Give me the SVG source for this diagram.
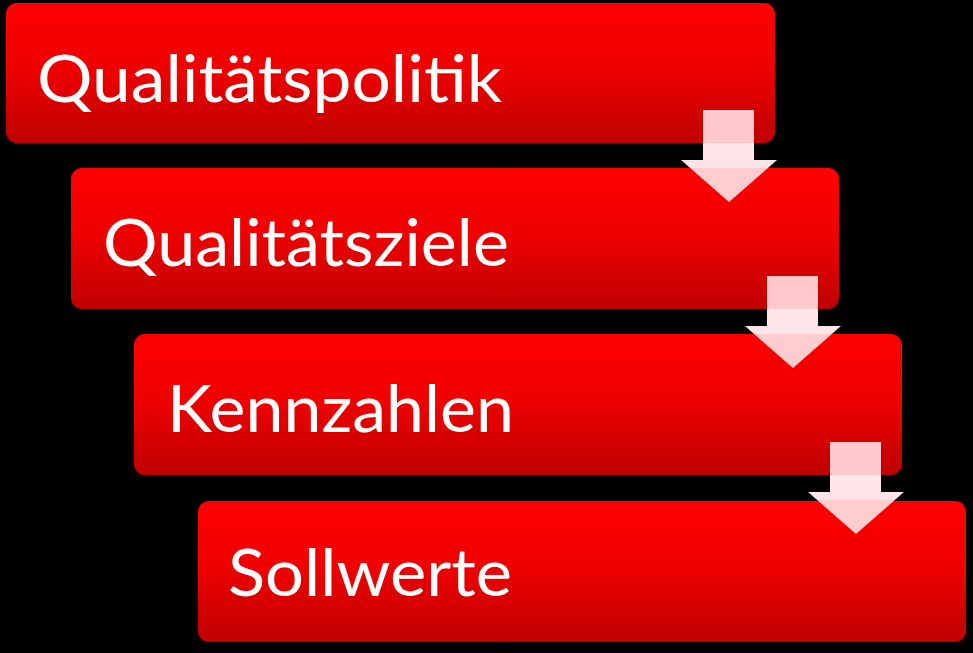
<svg xmlns="http://www.w3.org/2000/svg" width="973" height="653" viewBox="0 0 973 653">
<defs>
<linearGradient id="boxGrad" x1="0" y1="0" x2="0" y2="1">
<stop offset="0" stop-color="#ff0000"/>
<stop offset="0.45" stop-color="#f00000"/>
<stop offset="1" stop-color="#bf0000"/>
</linearGradient>
<linearGradient id="arrowGrad" x1="0" y1="0" x2="0" y2="1">
<stop offset="0" stop-color="#ffc8ca"/>
<stop offset="0.36" stop-color="#ffcacc"/>
<stop offset="0.36" stop-color="#ffe6e9"/>
<stop offset="0.63" stop-color="#ffe4e7"/>
<stop offset="0.63" stop-color="#ffcdcf"/>
<stop offset="1" stop-color="#ffcdcf"/>
</linearGradient>
<path id="arrowShape" d="M22,0 H73 V50 H96 L48,92 L0,50 H22 Z"/>
</defs>
<style>
.box { fill: url(#boxGrad); }
.lbl { fill: #ffffff; font-family: Lato, "Open Sans", "Liberation Sans", sans-serif; font-size: 66px; }
.arrow { fill: url(#arrowGrad); }
</style>
<rect x="0" y="0" width="973" height="653" fill="#000000"/>
<g id="node-qualitaetspolitik">
<rect class="box" x="6" y="3" width="769" height="140" rx="11" ry="11"/>
<text class="lbl" x="37" y="102" textLength="465" lengthAdjust="spacingAndGlyphs">Qualitätspolitik</text>
</g>
<g id="node-qualitaetsziele">
<rect class="box" x="71" y="168" width="768" height="141" rx="11" ry="11"/>
<text class="lbl" x="103" y="266" textLength="406" lengthAdjust="spacingAndGlyphs">Qualitätsziele</text>
</g>
<g id="node-kennzahlen">
<rect class="box" x="134" y="334" width="768" height="141" rx="11" ry="11"/>
<text class="lbl" x="167" y="432" textLength="347" lengthAdjust="spacingAndGlyphs">Kennzahlen</text>
</g>
<g id="node-sollwerte">
<rect class="box" x="198" y="501" width="768" height="141" rx="11" ry="11"/>
<text class="lbl" x="228" y="596" textLength="284" lengthAdjust="spacingAndGlyphs">Sollwerte</text>
</g>
<g id="connectors">
<use href="#arrowShape" class="arrow" transform="translate(681,110)"/>
<use href="#arrowShape" class="arrow" transform="translate(745,276)"/>
<use href="#arrowShape" class="arrow" transform="translate(808,442)"/>
</g>
</svg>
